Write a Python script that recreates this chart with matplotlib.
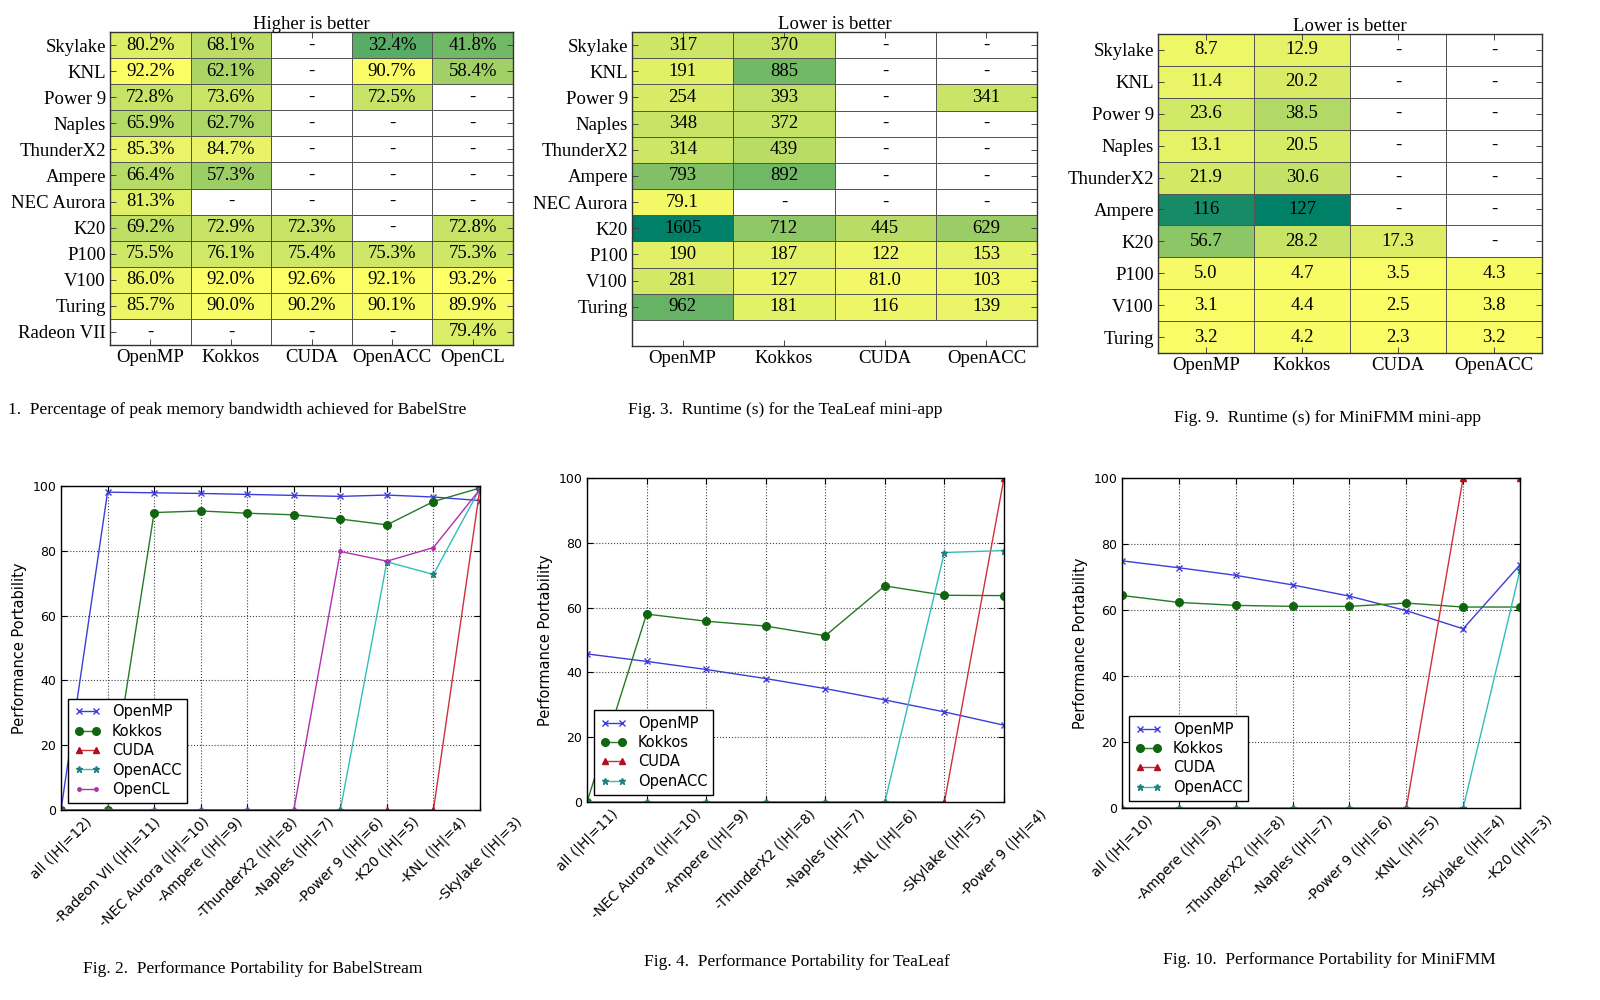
import numpy as np
import matplotlib
matplotlib.use("Agg")
import matplotlib.pyplot as plt

nan = np.nan

# --- heatmap data -------------------------------------------------------
babel_platforms = ["Skylake", "KNL", "Power 9", "Naples", "ThunderX2", "Ampere",
                   "NEC Aurora", "K20", "P100", "V100", "Turing", "Radeon VII"]
babel_models = ["OpenMP", "Kokkos", "CUDA", "OpenACC", "OpenCL"]
babel_bw = [
    [80.2, 68.1, nan, 32.4, 41.8],
    [92.2, 62.1, nan, 90.7, 58.4],
    [72.8, 73.6, nan, 72.5, nan],
    [65.9, 62.7, nan, nan, nan],
    [85.3, 84.7, nan, nan, nan],
    [66.4, 57.3, nan, nan, nan],
    [81.3, nan, nan, nan, nan],
    [69.2, 72.9, 72.3, nan, 72.8],
    [75.5, 76.1, 75.4, 75.3, 75.3],
    [86.0, 92.0, 92.6, 92.1, 93.2],
    [85.7, 90.0, 90.2, 90.1, 89.9],
    [nan, nan, nan, nan, 79.4],
]

tealeaf_platforms = ["Skylake", "KNL", "Power 9", "Naples", "ThunderX2", "Ampere",
                     "NEC Aurora", "K20", "P100", "V100", "Turing"]
tealeaf_models = ["OpenMP", "Kokkos", "CUDA", "OpenACC"]
tealeaf_runtime = [
    [317, 370, nan, nan],
    [191, 885, nan, nan],
    [254, 393, nan, 341],
    [348, 372, nan, nan],
    [314, 439, nan, nan],
    [793, 892, nan, nan],
    [79.1, nan, nan, nan],
    [1605, 712, 445, 629],
    [190, 187, 122, 153],
    [281, 127, 81.0, 103],
    [962, 181, 116, 139],
]

minifmm_platforms = ["Skylake", "KNL", "Power 9", "Naples", "ThunderX2", "Ampere",
                     "K20", "P100", "V100", "Turing"]
minifmm_models = ["OpenMP", "Kokkos", "CUDA", "OpenACC"]
minifmm_runtime = [
    [8.7, 12.9, nan, nan],
    [11.4, 20.2, nan, nan],
    [23.6, 38.5, nan, nan],
    [13.1, 20.5, nan, nan],
    [21.9, 30.6, nan, nan],
    [116, 127, nan, nan],
    [56.7, 28.2, 17.3, nan],
    [5.0, 4.7, 3.5, 4.3],
    [3.1, 4.4, 2.5, 3.8],
    [3.2, 4.2, 2.3, 3.2],
]

# --- performance portability data ---------------------------------------
babel_sets = ["all (|H|=12)", "-Radeon VII (|H|=11)", "-NEC Aurora (|H|=10)",
              "-Ampere (|H|=9)", "-ThunderX2 (|H|=8)", "-Naples (|H|=7)",
              "-Power 9 (|H|=6)", "-K20 (|H|=5)", "-KNL (|H|=4)", "-Skylake (|H|=3)"]
babel_openmp = [0, 98.1, 97.9, 97.7, 97.4, 97.1, 96.8, 97.2, 96.6, 95.5]
babel_kokkos = [0, 0, 91.8, 92.3, 91.6, 91.1, 89.8, 88.0, 95.2, 99.4]
babel_cuda = [0, 0, 0, 0, 0, 0, 0, 0, 0, 99.3]
babel_openacc = [0, 0, 0, 0, 0, 0, 0, 76.6, 72.7, 99.2]
babel_opencl = [0, 0, 0, 0, 0, 0, 79.8, 76.8, 81.0, 99.0]

tealeaf_sets = ["all (|H|=11)", "-NEC Aurora (|H|=10)", "-Ampere (|H|=9)",
                "-ThunderX2 (|H|=8)", "-Naples (|H|=7)", "-KNL (|H|=6)",
                "-Skylake (|H|=5)", "-Power 9 (|H|=4)"]
tealeaf_openmp = [45.7, 43.4, 40.9, 38.1, 35.0, 31.5, 27.8, 23.7]
tealeaf_kokkos = [0, 58.0, 55.8, 54.3, 51.3, 66.7, 63.8, 63.7]
tealeaf_cuda = [0, 0, 0, 0, 0, 0, 0, 100]
tealeaf_openacc = [0, 0, 0, 0, 0, 0, 77.0, 77.6]

minifmm_sets = ["all (|H|=10)", "-Ampere (|H|=9)", "-ThunderX2 (|H|=8)",
                "-Naples (|H|=7)", "-Power 9 (|H|=6)", "-KNL (|H|=5)",
                "-Skylake (|H|=4)", "-K20 (|H|=3)"]
minifmm_openmp = [74.9, 72.8, 70.5, 67.6, 64.2, 59.8, 54.3, 73.7]
minifmm_kokkos = [64.4, 62.3, 61.4, 61.1, 61.1, 62.1, 60.9, 60.9]
minifmm_cuda = [0, 0, 0, 0, 0, 0, 100, 100]
minifmm_openacc = [0, 0, 0, 0, 0, 0, 0, 72.0]

SERIF = ["Liberation Serif", "DejaVu Serif"]
W, H = 1600, 1000

STYLE = {
    "OpenMP": dict(color="#3d3ddb", marker="x", ms=5, mew=1.0),
    "Kokkos": dict(color="#267a26", marker="o", ms=5.5, mfc="#106610", mec="#106610"),
    "CUDA": dict(color="#d0303a", marker="^", ms=5, mfc="#b01020", mec="#b01020"),
    "OpenACC": dict(color="#33bcbc", marker="*", ms=5, mfc="#208080", mec="#208080"),
    "OpenCL": dict(color="#b030b0", marker=".", ms=5),
}


def box(l, t, r, b):
    return [l / W, 1 - b / H, (r - l) / W, (b - t) / H]


def fmt_pct(v):
    return f"{v:.1f}%"


def fmt_runtime(v):
    return f"{v:.0f}" if v >= 100 else f"{v:.1f}"


def heatmap(ax, data, rows, cols, cmap, fmt, title, total_rows=None):
    data = np.array(data, dtype=float)
    nr, nc = data.shape
    total_rows = total_rows or nr
    cm = plt.get_cmap(cmap).copy()
    cm.set_bad("white")
    ax.pcolormesh(np.arange(nc + 1), np.arange(nr + 1), np.ma.masked_invalid(data),
                  cmap=cm, vmin=0, vmax=np.nanmax(data),
                  edgecolors="#555555", linewidth=0.6)
    for i in range(nr):
        for j in range(nc):
            v = data[i, j]
            txt = "-" if np.isnan(v) else fmt(v)
            ax.text(j + 0.5, i + 0.5, txt, ha="center", va="center",
                    fontsize=13.5, family=SERIF)
    ax.set_xlim(0, nc)
    ax.set_ylim(total_rows, 0)
    ax.set_xticks(np.arange(nc) + 0.5)
    ax.set_xticklabels(cols, fontsize=13.5, family=SERIF)
    ax.set_yticks(np.arange(nr) + 0.5)
    ax.set_yticklabels(rows, fontsize=13.5, family=SERIF)
    ax.tick_params(direction="in", length=4, width=0.7, color="#444444",
                   top=True, right=True, pad=3)
    for s in ax.spines.values():
        s.set_color("#333333")
        s.set_linewidth(1.0)
    ax.set_title(title, fontsize=13.5, family=SERIF, pad=2)


def pp_plot(ax, labels, series):
    x = np.arange(len(labels))
    for name, vals in series:
        ax.plot(x, vals, lw=1.0, label=name, **STYLE[name])
    ax.set_xlim(0, len(labels) - 1)
    ax.set_ylim(0, 100)
    ax.set_xticks(x)
    ax.set_xticklabels(labels, rotation=45, fontsize=10)
    ax.set_yticks(range(0, 101, 20))
    ax.tick_params(axis="y", labelsize=9)
    ax.tick_params(direction="in", length=4, top=True, right=True)
    ax.set_ylabel("Performance Portability", fontsize=10.5)
    ax.grid(True, ls=":", color="#444444", lw=0.8)
    for s in ax.spines.values():
        s.set_linewidth(1.0)
    leg = ax.legend(loc="lower left", fontsize=10.5, numpoints=2, fancybox=False,
                    edgecolor="black", framealpha=1, labelspacing=0.3,
                    handlelength=1.8, borderpad=0.4)
    leg.get_frame().set_linewidth(1.0)


fig = plt.figure(figsize=(16, 10), dpi=100)

ax1 = fig.add_axes(box(110, 32, 513, 345))
heatmap(ax1, babel_bw, babel_platforms, babel_models, "summer", fmt_pct,
        "Higher is better")
ax2 = fig.add_axes(box(632, 32, 1037, 346))
heatmap(ax2, tealeaf_runtime, tealeaf_platforms, tealeaf_models, "summer_r",
        fmt_runtime, "Lower is better", total_rows=12)
ax3 = fig.add_axes(box(1158, 34, 1542, 353))
heatmap(ax3, minifmm_runtime, minifmm_platforms, minifmm_models, "summer_r",
        fmt_runtime, "Lower is better")

ax4 = fig.add_axes(box(61, 486, 480, 810))
pp_plot(ax4, babel_sets, [("OpenMP", babel_openmp), ("Kokkos", babel_kokkos),
                          ("CUDA", babel_cuda), ("OpenACC", babel_openacc),
                          ("OpenCL", babel_opencl)])
ax5 = fig.add_axes(box(587, 478, 1004, 802))
pp_plot(ax5, tealeaf_sets, [("OpenMP", tealeaf_openmp), ("Kokkos", tealeaf_kokkos),
                            ("CUDA", tealeaf_cuda), ("OpenACC", tealeaf_openacc)])
ax6 = fig.add_axes(box(1122, 478, 1520, 808))
pp_plot(ax6, minifmm_sets, [("OpenMP", minifmm_openmp), ("Kokkos", minifmm_kokkos),
                            ("CUDA", minifmm_cuda), ("OpenACC", minifmm_openacc)])

# captions
cap = dict(fontsize=12.5, family=SERIF, va="center")
fig.text(8 / W, 1 - 410 / H,
         "1.  Percentage of peak memory bandwidth achieved for BabelStre",
         ha="left", **cap)
fig.text(785 / W, 1 - 410 / H, "Fig. 3.  Runtime (s) for the TeaLeaf mini-app",
         ha="center", **cap)
fig.text(1327 / W, 1 - 418 / H, "Fig. 9.  Runtime (s) for MiniFMM mini-app",
         ha="center", **cap)
fig.text(253 / W, 1 - 969 / H, "Fig. 2.  Performance Portability for BabelStream",
         ha="center", **cap)
fig.text(797 / W, 1 - 962 / H, "Fig. 4.  Performance Portability for TeaLeaf",
         ha="center", **cap)
fig.text(1329 / W, 1 - 960 / H, "Fig. 10.  Performance Portability for MiniFMM",
         ha="center", **cap)

fig.savefig("out.png", dpi=100)
